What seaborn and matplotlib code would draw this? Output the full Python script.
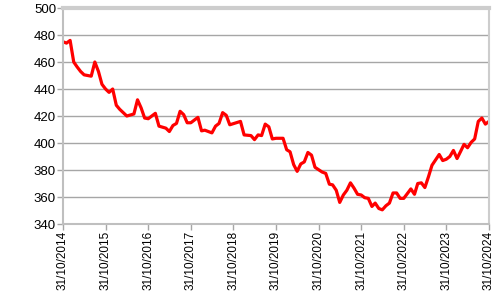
import matplotlib
matplotlib.use("Agg")
import matplotlib.pyplot as plt
import matplotlib.dates as mdates
import seaborn as sns
import pandas as pd

months = ["2014-10", "2014-11", "2014-12", "2015-01", "2015-02", "2015-03", "2015-04", "2015-06",
          "2015-07", "2015-08", "2015-09", "2015-10", "2015-11", "2015-12", "2016-01", "2016-02",
          "2016-04", "2016-06", "2016-07", "2016-08", "2016-09", "2016-10", "2016-12", "2017-01",
          "2017-03", "2017-04", "2017-05", "2017-06", "2017-07", "2017-08", "2017-09", "2017-10",
          "2017-12", "2018-01", "2018-02", "2018-04", "2018-05", "2018-06", "2018-07", "2018-08",
          "2018-09", "2018-12", "2019-01", "2019-03", "2019-04", "2019-05", "2019-06", "2019-07",
          "2019-08", "2019-09", "2019-10", "2019-12", "2020-01", "2020-02", "2020-03", "2020-04",
          "2020-05", "2020-06", "2020-07", "2020-08", "2020-09", "2020-11", "2020-12", "2021-01",
          "2021-02", "2021-03", "2021-04", "2021-05", "2021-06", "2021-07", "2021-08", "2021-09",
          "2021-10", "2021-11", "2021-12", "2022-01", "2022-02", "2022-03", "2022-04", "2022-05",
          "2022-06", "2022-07", "2022-08", "2022-09", "2022-10", "2022-12", "2023-01", "2023-02",
          "2023-03", "2023-04", "2023-05", "2023-06", "2023-08", "2023-09", "2023-10", "2023-11",
          "2023-12", "2024-01", "2024-02", "2024-03", "2024-04", "2024-05", "2024-06", "2024-07",
          "2024-08", "2024-09", "2024-10"]
values = [475, 474, 476, 460, 456.5, 453, 450.5, 449.5,
          460, 453, 443.5, 440, 437.5, 440, 428, 425,
          420, 421.5, 432, 426, 418.5, 418, 422, 412.5,
          411, 408.5, 413, 414.5, 423.5, 421, 415, 415,
          419, 409, 409.5, 407.5, 412.5, 414.5, 422.5, 420.5,
          413.5, 416, 406, 405.5, 402.5, 406, 405.5, 414,
          412, 403, 403.5, 403.5, 395, 393.5, 384, 379,
          384.5, 386, 393, 391, 382, 378.5, 377.5, 369.5,
          369, 365, 356, 361.5, 365, 370.5, 366.5, 362,
          361.5, 359.5, 359, 353, 355.5, 351.5, 350.5, 353.5,
          355.5, 363, 363, 359, 359, 366, 362, 370,
          370.5, 367, 375, 383.5, 391.5, 387, 388, 390,
          394.5, 388.5, 393.5, 399, 396.5, 400.5, 403, 416,
          418.5, 414, 416]
tick_years = list(range(2014, 2025))
y_ticks = [340, 360, 380, 400, 420, 440, 460, 480, 500]

dates = pd.to_datetime(months) + pd.offsets.MonthEnd(0)
df = pd.DataFrame({"date": dates, "value": values})

sns.set_theme(style="white")
plt.rcParams["font.family"] = ["Liberation Sans", "DejaVu Sans"]

fig = plt.figure(figsize=(5, 3), dpi=100)
ax = fig.add_axes([0.126, 0.2533, 0.852, 0.72])
sns.lineplot(data=df, x="date", y="value", ax=ax, color="#ff0000", linewidth=2.3)

tick_dates = [pd.Timestamp(f"{y}-10-31") for y in tick_years]
ax.set_xlim(tick_dates[0], tick_dates[-1])
ax.set_xticks(tick_dates)
ax.set_xticklabels([d.strftime("%d/%m/%Y") for d in tick_dates], rotation=90, fontsize=8.5)
ax.set_ylim(340, 500)
ax.set_yticks(y_ticks)
ax.set_yticklabels([str(v) for v in y_ticks], fontsize=9.5)
ax.yaxis.grid(True, color="#a6a6a6", linewidth=1)
ax.set_axisbelow(True)
ax.set_xlabel("")
ax.set_ylabel("")

for side in ["left", "bottom"]:
    ax.spines[side].set_color("#bfbfbf")
    ax.spines[side].set_linewidth(1.5)
ax.spines["top"].set_color("#cdcdcd")
ax.spines["top"].set_linewidth(3)
ax.spines["right"].set_color("#cdcdcd")
ax.spines["right"].set_linewidth(1.5)
ax.tick_params(axis="both", which="major", length=4, width=1, color="#a6a6a6",
               direction="out", bottom=True, left=True, pad=1, labelcolor="black")

fig.savefig("out.png", dpi=100, facecolor="white")
